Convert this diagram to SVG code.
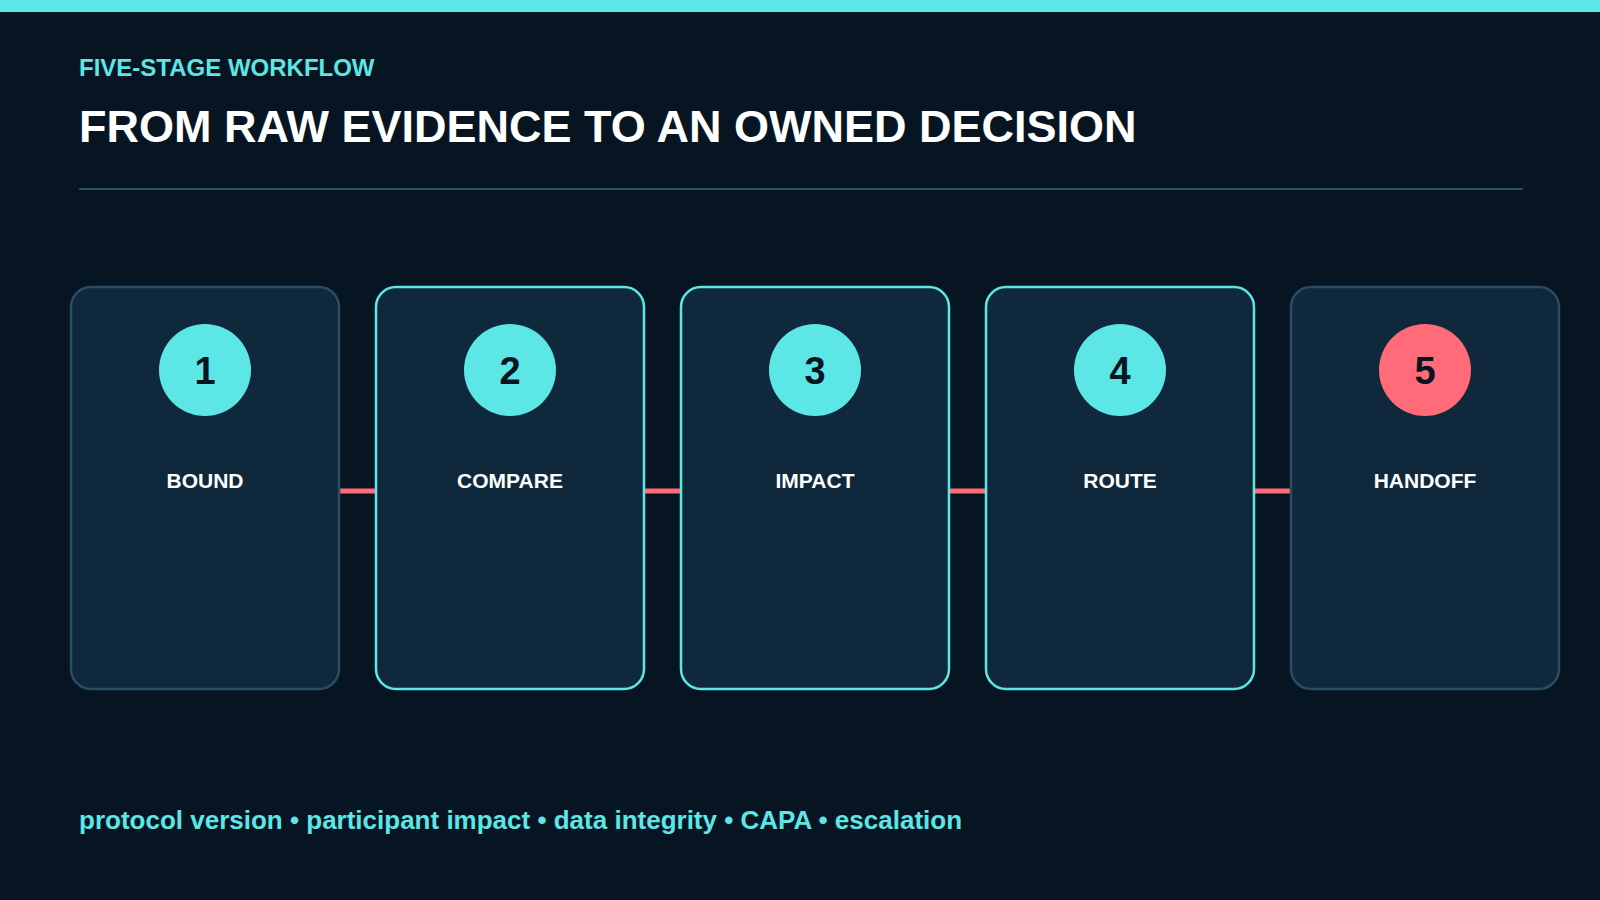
<svg xmlns="http://www.w3.org/2000/svg" width="1600" height="900" viewBox="0 0 1600 900">
<style>
.card{fill:#10283b;stroke-width:2.5}
.dim{stroke:#2b4d63}
.hi{stroke:#5ce6e6}
.num{font-family:"Liberation Sans",Arial,sans-serif;font-weight:bold;font-size:38px;fill:#071522;text-anchor:middle}
.lbl{font-family:"Liberation Sans",Arial,sans-serif;font-weight:bold;font-size:21px;fill:#ffffff;text-anchor:middle}
.conn{stroke:#ff6b78;stroke-width:5}
</style>
<rect width="1600" height="900" fill="#071522"/>
<rect width="1600" height="12" fill="#5ce6e6"/>
<text x="79" y="76" font-family="Liberation Sans,Arial,sans-serif" font-weight="bold" font-size="24" fill="#5ce6e6">FIVE-STAGE WORKFLOW</text>
<text x="79" y="142" font-family="Liberation Sans,Arial,sans-serif" font-weight="bold" font-size="45" fill="#ffffff">FROM RAW EVIDENCE TO AN OWNED DECISION</text>
<line x1="79" y1="189" x2="1523" y2="189" stroke="#2b4d63" stroke-width="2"/>
<g id="connectors">
<line class="conn" x1="340" y1="491" x2="376" y2="491"/>
<line class="conn" x1="645" y1="491" x2="681" y2="491"/>
<line class="conn" x1="950" y1="491" x2="986" y2="491"/>
<line class="conn" x1="1255" y1="491" x2="1291" y2="491"/>
</g>
<g id="n1"><rect class="card dim" x="71" y="287" width="268" height="402" rx="20"/><circle cx="205" cy="370" r="46" fill="#5ce6e6"/><text class="num" x="205" y="384">1</text><text class="lbl" x="205" y="488">BOUND</text></g>
<g id="n2"><rect class="card hi" x="376" y="287" width="268" height="402" rx="20"/><circle cx="510" cy="370" r="46" fill="#5ce6e6"/><text class="num" x="510" y="384">2</text><text class="lbl" x="510" y="488">COMPARE</text></g>
<g id="n3"><rect class="card hi" x="681" y="287" width="268" height="402" rx="20"/><circle cx="815" cy="370" r="46" fill="#5ce6e6"/><text class="num" x="815" y="384">3</text><text class="lbl" x="815" y="488">IMPACT</text></g>
<g id="n4"><rect class="card hi" x="986" y="287" width="268" height="402" rx="20"/><circle cx="1120" cy="370" r="46" fill="#5ce6e6"/><text class="num" x="1120" y="384">4</text><text class="lbl" x="1120" y="488">ROUTE</text></g>
<g id="n5"><rect class="card dim" x="1291" y="287" width="268" height="402" rx="20"/><circle cx="1425" cy="370" r="46" fill="#ff6b78"/><text class="num" x="1425" y="384">5</text><text class="lbl" x="1425" y="488">HANDOFF</text></g>
<text x="79" y="829" font-family="Liberation Sans,Arial,sans-serif" font-weight="bold" font-size="26" fill="#5ce6e6">protocol version • participant impact • data integrity • CAPA • escalation</text>
</svg>
